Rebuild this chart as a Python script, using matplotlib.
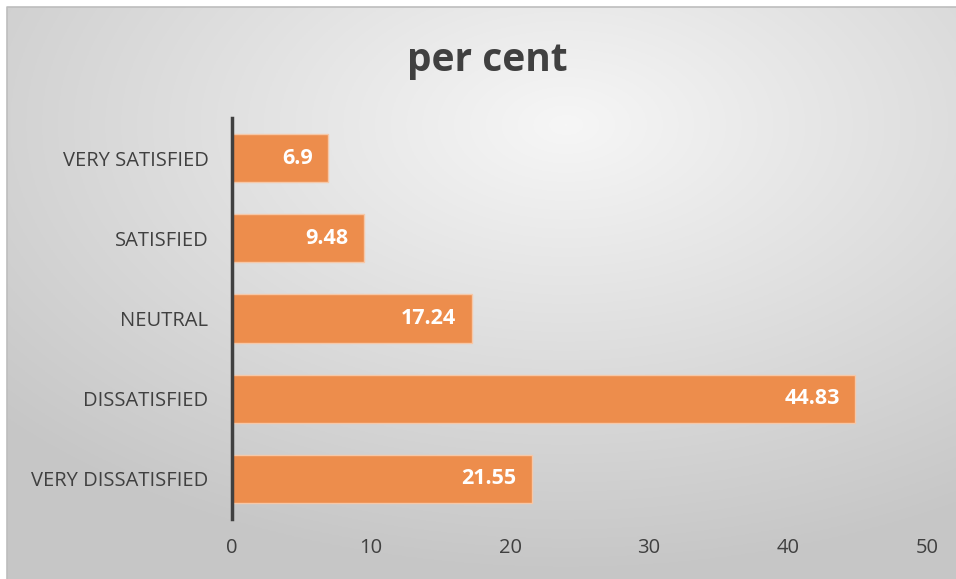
import numpy as np
import matplotlib
matplotlib.use("Agg")
import matplotlib.pyplot as plt
from matplotlib.lines import Line2D

categories = ["VERY DISSATISFIED", "DISSATISFIED", "NEUTRAL", "SATISFIED", "VERY SATISFIED"]
values = [21.55, 44.83, 17.24, 9.48, 6.9]
labels = ["21.55", "44.83", "17.24", "9.48", "6.9"]
xticks = [0, 10, 20, 30, 40, 50]

W, H = 956, 579
fig = plt.figure(figsize=(W / 100, H / 100), dpi=100)
fig.patch.set_facecolor("white")

# background radial gradient (extends past right/bottom edges)
bg = fig.add_axes([7 / W, -0.03, 1.05 - 7 / W, 1.03 - 7 / H], zorder=0)
yy, xx = np.mgrid[0:300, 0:500]
cx, cy = 280, 60
r = np.sqrt(((xx - cx) / 500) ** 2 + ((yy - cy) / 300) ** 2)
r = np.clip(r / 0.75, 0, 1)
c0, c1 = 0.965, 0.78
img = c0 + (c1 - c0) * r
bg.imshow(np.dstack([img, img, img]), aspect="auto", extent=[0, 1, 0, 1], origin="upper")
bg.set_xlim(0, 1)
bg.set_ylim(0, 1)
bg.axis("off")
fig.add_artist(Line2D([6.5 / W, 6.5 / W, 1.0], [0, 1 - 6.5 / H, 1 - 6.5 / H],
                      transform=fig.transFigure, color="#bdbdbd", linewidth=1.2, zorder=1))

font = ["Open Sans", "DejaVu Sans"]

ax = fig.add_axes([232 / W, 1 - 519 / H, (927 - 232) / W, (519 - 118) / H], zorder=2)
ax.patch.set_alpha(0)
y = np.arange(len(categories))
bars = ax.barh(y, values, height=0.6, color="#ED8D4C", edgecolor="#F6C8A8", linewidth=1)
ax.set_xlim(0, 50)
ax.set_ylim(-0.5, len(categories) - 0.5)
ax.set_yticks(y)
ax.set_yticklabels(categories, fontsize=14.5, color="#404040", family=font)
ax.set_xticks(xticks)
ax.set_xticklabels([str(t) for t in xticks], fontsize=14.5, color="#404040", family=font)
ax.tick_params(axis="both", length=0)
ax.tick_params(axis="y", pad=17)
ax.tick_params(axis="x", pad=14)
for s in ["top", "right", "bottom"]:
    ax.spines[s].set_visible(False)
ax.spines["left"].set_color("#404040")
ax.spines["left"].set_linewidth(2.5)

for b, lab in zip(bars, labels):
    ax.text(b.get_width() - 1.1, b.get_y() + b.get_height() / 2, lab, ha="right", va="center",
            color="white", fontsize=15.5, fontweight="bold", family=font)

fig.text(487 / W, 1 - 60 / H, "per cent", ha="center", va="center", fontsize=28,
         fontweight="bold", color="#404040", family=font)

fig.savefig("out.png", dpi=100)
